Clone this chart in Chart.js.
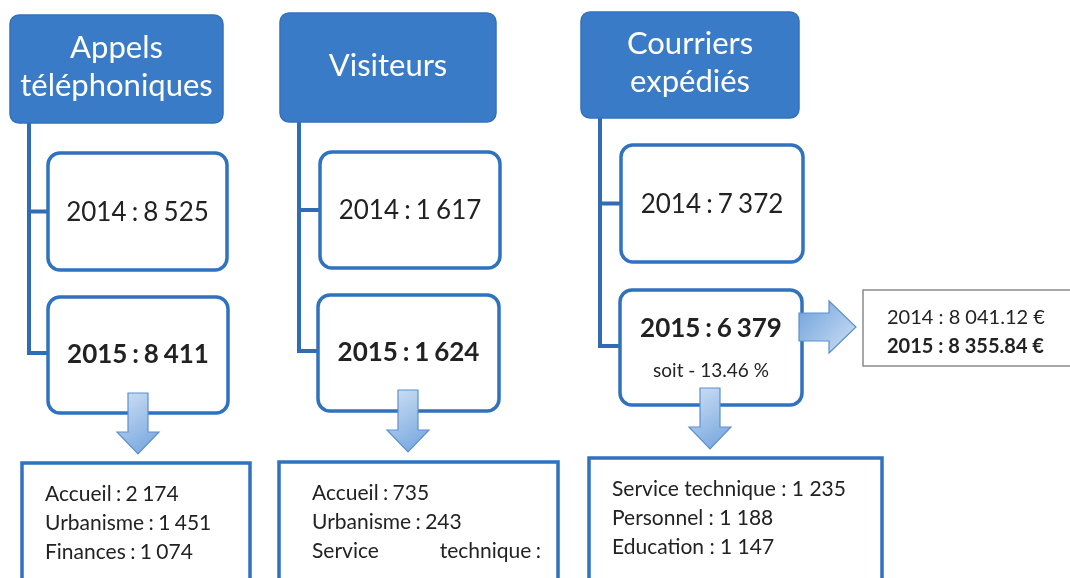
<!DOCTYPE html>
<html>
<head>
<meta charset="utf-8">
<script src="https://cdn.jsdelivr.net/npm/chart.js@4"></script>
<style>
  html, body { margin: 0; padding: 0; background: #fff; }
  #wrap { width: 1070px; height: 578px; position: relative; }
</style>
</head>
<body>
<div id="wrap"><canvas id="schema"></canvas></div>
<script>
// data
const categories = [['Appels', 'téléphoniques'], ['Visiteurs'], ['Courriers', 'expédiés']]
const annees = ['2014', '2015']
const valeurs2014 = ['8 525', '1 617', '7 372']
const valeurs2015 = ['8 411', '1 624', '6 379']
const evolution = ['', '', 'soit - 13.46 %']
const detailAppels = ['Accueil : 2 174', 'Urbanisme : 1 451', 'Finances : 1 074']
const detailVisiteurs = ['Accueil : 735', 'Urbanisme : 243', 'Service technique :']
const detailCourriers = ['Service technique : 1 235', 'Personnel : 1 188', 'Education : 1 147']
const affranchissement = ['2014 : 8 041.12 €', '2015 : 8 355.84 €']
const details = [detailAppels, detailVisiteurs, detailCourriers]

// layout (page units, mapped through the chart scales)
const colonnes = [
  { head: [10, 15, 213, 108], line: 29, b1: [48, 153, 179, 117], b2: [48, 297, 180, 116], arrow: 138, aTop: 393, aTip: 454, bot: [22, 463, 228, 130], tx: 45 },
  { head: [280, 13, 216, 109], line: 299, b1: [320, 152, 180, 116], b2: [318, 295, 181, 116], arrow: 408, aTop: 390, aTip: 452, bot: [279, 462, 279, 130], tx: 312 },
  { head: [581, 12, 218, 106], line: 600, b1: [621, 145, 182, 117], b2: [620, 290, 182, 115], arrow: 710, aTop: 388, aTip: 449, bot: [589, 458, 293, 130], tx: 612 }
]

const BLEU = '#3a7bc8'
const BORD = '#2f72bf'
const FONT = 'Lato, "Open Sans", sans-serif'

function rrect(ctx, x, y, w, h, r) {
  ctx.beginPath()
  ctx.moveTo(x + r, y)
  ctx.arcTo(x + w, y, x + w, y + h, r)
  ctx.arcTo(x + w, y + h, x, y + h, r)
  ctx.arcTo(x, y + h, x, y, r)
  ctx.arcTo(x, y, x + w, y, r)
  ctx.closePath()
}

const schemaPlugin = {
  id: 'schema',
  afterDraw(chart) {
    const ctx = chart.ctx
    const xs = chart.scales.x
    const ys = chart.scales.y
    const px = v => xs.getPixelForValue(v)
    const py = v => ys.getPixelForValue(v)
    const box = (b) => [px(b[0]), py(b[1]), px(b[0] + b[2]) - px(b[0]), py(b[1] + b[3]) - py(b[1])]

    function flecheBas(cx, top, tip) {
      const headY = tip - 22
      const g = ctx.createLinearGradient(cx - 20, top, cx + 20, tip)
      g.addColorStop(0, '#cfe0f4')
      g.addColorStop(1, '#6fa2dc')
      ctx.beginPath()
      ctx.moveTo(px(cx - 10), py(top))
      ctx.lineTo(px(cx + 10), py(top))
      ctx.lineTo(px(cx + 10), py(headY))
      ctx.lineTo(px(cx + 21), py(headY))
      ctx.lineTo(px(cx), py(tip))
      ctx.lineTo(px(cx - 21), py(headY))
      ctx.lineTo(px(cx - 10), py(headY))
      ctx.closePath()
      ctx.fillStyle = g
      ctx.fill()
      ctx.strokeStyle = '#5d8fcf'
      ctx.lineWidth = 1.2
      ctx.stroke()
    }

    function flecheDroite(left, cy, tip) {
      const headX = tip - 27
      const g = ctx.createLinearGradient(left, cy - 25, tip, cy + 25)
      g.addColorStop(0, '#6fa2dc')
      g.addColorStop(1, '#cfe0f4')
      ctx.beginPath()
      ctx.moveTo(px(left), py(cy - 14))
      ctx.lineTo(px(headX), py(cy - 14))
      ctx.lineTo(px(headX), py(cy - 26))
      ctx.lineTo(px(tip), py(cy))
      ctx.lineTo(px(headX), py(cy + 26))
      ctx.lineTo(px(headX), py(cy + 14))
      ctx.lineTo(px(left), py(cy + 14))
      ctx.closePath()
      ctx.fillStyle = g
      ctx.fill()
      ctx.strokeStyle = '#5d8fcf'
      ctx.lineWidth = 1.2
      ctx.stroke()
    }

    ctx.save()
    colonnes.forEach((c, i) => {
      // connectors
      const y1 = c.b1[1] + c.b1[3] / 2
      const y2 = c.b2[1] + 56
      ctx.strokeStyle = '#2f6cb4'
      ctx.lineWidth = 4
      ctx.beginPath()
      ctx.moveTo(px(c.line), py(c.head[1] + c.head[3]))
      ctx.lineTo(px(c.line), py(y2))
      ctx.lineTo(px(c.b2[0]), py(y2))
      ctx.moveTo(px(c.line), py(y1))
      ctx.lineTo(px(c.b1[0]), py(y1))
      ctx.stroke()

      // header box
      let [x, y, w, h] = box(c.head)
      rrect(ctx, x, y, w, h, 9)
      ctx.fillStyle = BLEU
      ctx.fill()
      ctx.strokeStyle = '#3371bd'
      ctx.lineWidth = 1.5
      ctx.stroke()
      ctx.fillStyle = '#fff'
      ctx.font = '31px ' + FONT
      ctx.wordSpacing = '0px'
      ctx.textAlign = 'center'
      ctx.textBaseline = 'middle'
      const lignes = categories[i]
      lignes.forEach((t, k) => {
        ctx.fillText(t, x + w / 2, y + h / 2 + (k - (lignes.length - 1) / 2) * 38 - 2)
      })

      // slightly narrower spaces, closer to the original font
      ctx.wordSpacing = '-1.5px'

      // 2014 box
      ;[x, y, w, h] = box(c.b1)
      rrect(ctx, x, y, w, h, 12)
      ctx.fillStyle = '#fff'
      ctx.fill()
      ctx.strokeStyle = BORD
      ctx.lineWidth = 3.5
      ctx.stroke()
      ctx.fillStyle = '#222'
      ctx.font = '26px ' + FONT
      ctx.fillText(annees[0] + ' : ' + valeurs2014[i], x + w / 2, y + h / 2 + 1)

      // 2015 box
      ;[x, y, w, h] = box(c.b2)
      rrect(ctx, x, y, w, h, 12)
      ctx.fillStyle = '#fff'
      ctx.fill()
      ctx.strokeStyle = BORD
      ctx.lineWidth = 3.5
      ctx.stroke()
      ctx.fillStyle = '#222'
      ctx.font = 'bold 26px ' + FONT
      if (evolution[i]) {
        ctx.fillText(annees[1] + ' : ' + valeurs2015[i], x + w / 2, y + 39)
        ctx.font = '19px ' + FONT
        ctx.wordSpacing = '0px'
        ctx.fillText(evolution[i], x + w / 2, y + 81)
      } else {
        ctx.fillText(annees[1] + ' : ' + valeurs2015[i], x + w / 2, y + 58)
      }

      flecheBas(c.arrow, c.aTop, c.aTip)

      // detail box
      ;[x, y, w, h] = box(c.bot)
      ctx.fillStyle = '#fff'
      ctx.fillRect(x, y, w, h)
      ctx.strokeStyle = BORD
      ctx.lineWidth = 3.5
      ctx.strokeRect(x, y, w, h)
      ctx.fillStyle = '#222'
      ctx.font = '21px ' + FONT
      ctx.wordSpacing = i === 2 ? '0px' : '-1px'
      ctx.textAlign = 'left'
      details[i].forEach((t, k) => {
        const ly = y + 31 + k * 29
        if (i === 1 && k === 2) {
          // justified line in the original
          const mots = t.split(' ')
          ctx.fillText(mots[0], px(c.tx), ly)
          ctx.textAlign = 'right'
          ctx.fillText(mots.slice(1).join(' '), px(541), ly)
          ctx.textAlign = 'left'
        } else {
          ctx.fillText(t, px(c.tx), ly)
        }
      })
      ctx.textAlign = 'center'
    })

    // postage arrow + box
    flecheDroite(799, 327, 856)
    const [gx, gy, gw, gh] = box([863, 290, 215, 76])
    ctx.fillStyle = '#fff'
    ctx.fillRect(gx, gy, gw, gh)
    ctx.strokeStyle = '#8a8a8a'
    ctx.lineWidth = 1.5
    ctx.strokeRect(gx, gy, gw, gh)
    ctx.fillStyle = '#222'
    ctx.textAlign = 'left'
    ctx.wordSpacing = '0px'
    ctx.font = '20px ' + FONT
    ctx.fillText(affranchissement[0], px(887), py(318))
    ctx.font = 'bold 20px ' + FONT
    ctx.fillText(affranchissement[1], px(887), py(347))
    ctx.restore()
  }
}

const chart = new Chart(document.querySelector('#schema'), {
  type: 'scatter',
  data: { datasets: [{ data: [] }] },
  options: {
    responsive: true,
    maintainAspectRatio: false,
    animation: false,
    layout: { padding: 0 },
    scales: {
      x: { type: 'linear', min: 0, max: 1070, display: false },
      y: { type: 'linear', min: 0, max: 578, reverse: true, display: false }
    },
    plugins: { legend: { display: false }, tooltip: { enabled: false } }
  },
  plugins: [schemaPlugin]
})
</script>
</body>
</html>
